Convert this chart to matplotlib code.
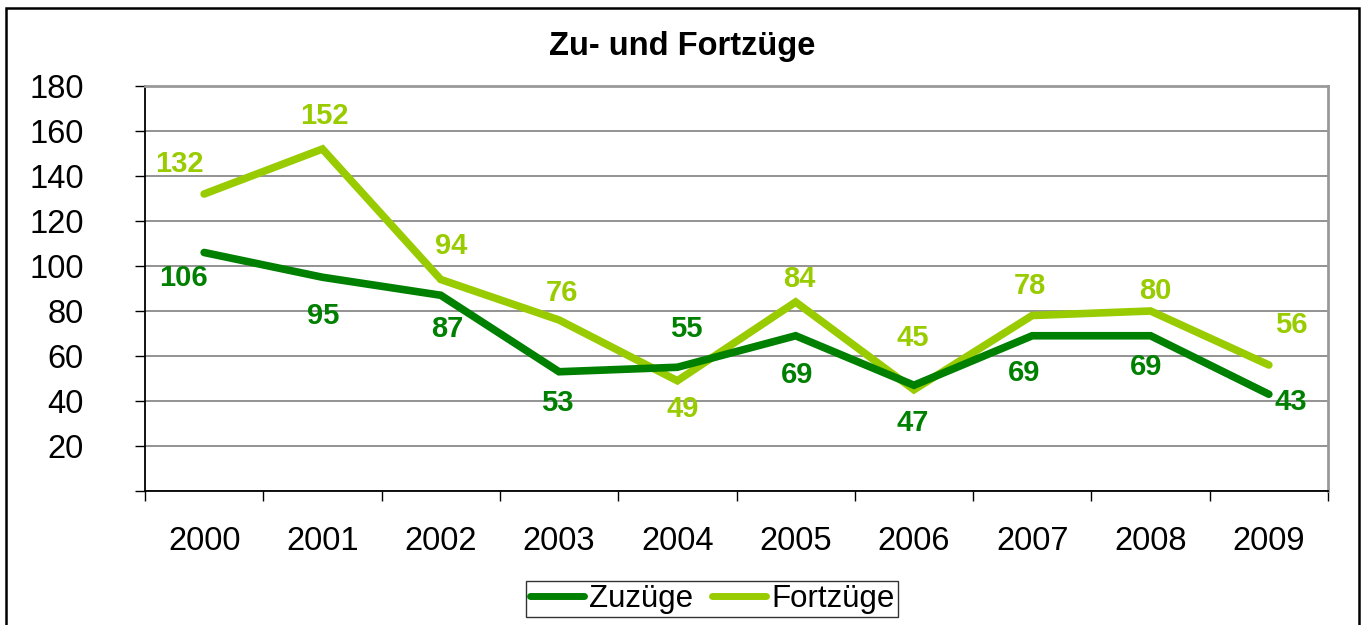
import matplotlib
matplotlib.use("Agg")
import matplotlib.pyplot as plt
from matplotlib.patches import Rectangle
from matplotlib.lines import Line2D
import numpy as np

plt.rcParams['font.family'] = ['Liberation Sans', 'DejaVu Sans']

years = ['2000', '2001', '2002', '2003', '2004', '2005', '2006', '2007', '2008', '2009']
zuzuege = [106, 95, 87, 53, 55, 69, 47, 69, 69, 43]
fortzuege = [132, 152, 94, 76, 49, 84, 45, 78, 80, 56]

# label offsets in pixels (dx, dy upward)
zu_off = [(-21, -26), (1, -39), (7, -34), (-2, -31), (9, 38), (1, -39), (-1, -38), (-8, -37), (-4, -31), (22, -8)]
fo_off = [(-25, 30), (2, 33), (10, 34), (3, 27), (5, -28), (4, 23), (-1, 52), (-2, 29), (5, 20), (22, 40)]

DARK = '#008000'
LIGHT = '#99CC00'
W, H = 1364, 625
fig = plt.figure(figsize=(W / 100, H / 100), dpi=100)
ax = fig.add_axes([145 / W, (H - 491) / H, 1183 / W, 405 / H])

x = np.arange(len(years))
ax.plot(x, fortzuege, color=LIGHT, lw=5.5, solid_capstyle='round', solid_joinstyle='miter', zorder=3)
ax.plot(x, zuzuege, color=DARK, lw=5.5, solid_capstyle='round', solid_joinstyle='miter', zorder=3)

px2pt = 72 / 100
for i, v in enumerate(zuzuege):
    dx, dy = zu_off[i]
    ax.annotate(str(v), (x[i], v), xytext=(dx * px2pt, dy * px2pt), textcoords='offset points',
                ha='center', va='center', fontsize=21, fontweight='bold', color=DARK, zorder=4)
for i, v in enumerate(fortzuege):
    dx, dy = fo_off[i]
    ax.annotate(str(v), (x[i], v), xytext=(dx * px2pt, dy * px2pt), textcoords='offset points',
                ha='center', va='center', fontsize=21, fontweight='bold', color=LIGHT, zorder=4)

ax.set_xlim(-0.5, len(years) - 0.5)
ax.set_ylim(0, 180)
yt = np.arange(0, 181, 20)
ax.set_yticks(yt)
ax.set_yticklabels([''] + [str(t) for t in yt[1:]], fontsize=23.5)
ax.set_xticks(x)
ax.set_xticklabels(years, fontsize=23.5)
ax.set_xticks(np.arange(-0.5, len(years)), minor=True)
ax.tick_params(axis='x', which='major', length=0, pad=25)
ax.tick_params(axis='x', which='minor', length=7, width=1, color='black', direction='out')
ax.tick_params(axis='y', length=7, width=1, color='black', pad=37, direction='out')

ax.grid(axis='y', color='#808080', lw=1.2, zorder=1)
ax.set_axisbelow(True)
for s in ['top', 'right']:
    ax.spines[s].set_color('#999999')
    ax.spines[s].set_linewidth(2)
for s in ['left', 'bottom']:
    ax.spines[s].set_color('black')
    ax.spines[s].set_linewidth(1.3)

fig.text(0.5, 1 - 47 / H, 'Zu- und Fortzüge', ha='center', va='center', fontsize=23.5, fontweight='bold')

handles = [Line2D([0], [0], color=DARK, lw=5, solid_capstyle='round'),
           Line2D([0], [0], color=LIGHT, lw=5, solid_capstyle='round')]
leg = fig.legend(handles, ['Zuzüge', 'Fortzüge'], loc='center', bbox_to_anchor=(712 / W, 1 - 599 / H),
                 ncol=2, fontsize=22.5, frameon=True, fancybox=False, edgecolor='black',
                 handlelength=1.75, handletextpad=0.15, columnspacing=0.6, borderpad=0.1,
                 borderaxespad=0)
leg.get_frame().set_linewidth(1.0)

fig.patches.append(Rectangle((6 / W, -0.05), (1359 - 6) / W, 1.05 - 8 / H, transform=fig.transFigure,
                             fill=False, edgecolor='black', lw=1.8))

fig.savefig('out.png', dpi=100)
